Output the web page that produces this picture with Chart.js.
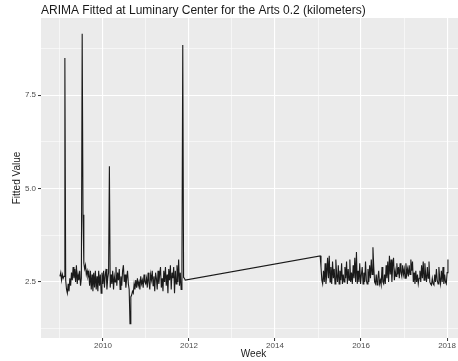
<!DOCTYPE html>
<html><head><meta charset="utf-8">
<script src="https://cdn.jsdelivr.net/npm/chart.js@4/dist/chart.umd.min.js"></script>
<style>
html,body{margin:0;padding:0;overflow:hidden;background:#fff;width:458px;height:361px}
#wrap{position:relative;width:466px;height:361px}
</style></head>
<body><div id="wrap"><canvas id="c" width="466" height="361"></canvas></div>
<script>
const titleText = "ARIMA Fitted at Luminary Center for the Arts 0.2 (kilometers)";
const xTitle = "Week";
const yTitle = "Fitted Value";
const seg1Start = 2009.0;
const seg2Start = 2015.05;
const seg1Values = [
  2.65, 2.75, 2.55, 2.7, 2.6, 2.65,
  8.5,
  2.55, 2.3, 2.2, 2.45, 2.25, 2.6, 2.4, 2.75, 2.55, 2.9, 2.6, 2.85, 2.5, 2.95, 2.45, 2.7, 2.55, 2.8, 2.4, 2.6,
  9.15, 4.3,
  3.0, 2.85, 2.95, 2.7, 2.8, 2.65, 2.75, 2.4, 2.8, 2.3, 2.7, 2.25, 2.75, 2.35, 2.8, 2.3, 2.65, 2.25, 2.8, 2.4, 2.7, 2.2, 2.75, 2.45, 2.8, 2.35, 2.7, 2.85, 2.3, 2.6, 2.75,
  5.6,
  2.35, 2.7, 2.45, 2.8, 2.3, 2.65, 2.5, 2.9, 2.4, 2.75, 2.55, 2.85, 2.3, 2.65, 2.4, 2.8, 2.95, 2.5, 2.7, 2.35, 2.6, 2.8, 2.45, 2.3,
  1.38,
  2.1, 2.15, 2.25, 2.2, 2.45, 2.3, 2.55, 2.35, 2.6, 2.4, 2.5, 2.3, 2.65, 2.45, 2.55, 2.35, 2.7, 2.5, 2.45, 2.6,
  2.35, 2.75, 2.5, 2.3, 2.7, 2.55, 2.8, 2.4, 2.65, 2.25, 2.75, 2.6, 2.3, 2.8, 2.45, 2.7, 2.9, 2.35, 2.6, 2.25,
  2.8, 2.5, 2.9, 2.4, 2.7, 2.2, 2.85, 2.55, 2.95, 2.3, 2.75, 2.6, 2.9, 2.2, 2.8, 2.45, 2.95, 2.5,
  3.1, 2.4, 2.75, 2.3, 2.95,
  8.85,
  2.62, 2.6, 2.55
];
const seg2Values = [
  3.2, 2.9, 2.55, 2.45, 2.8, 2.5, 3.0, 2.45, 2.7, 3.15, 2.6, 3.2, 2.5,
  2.9, 2.45, 3.05, 2.6, 2.85, 2.45, 3.1, 2.7, 2.5, 2.95, 2.45, 2.8, 2.55,
  3.0, 2.45, 2.7, 2.5, 2.9, 2.6, 3.05, 2.45, 2.85, 2.55, 3.1, 2.5, 2.75,
  2.45, 2.95, 2.6, 3.15, 2.5, 3.3, 2.45, 2.8, 2.5, 3.0, 2.45, 2.7, 2.9,
  2.45, 2.75, 2.5, 3.05, 2.55, 2.45, 2.85, 2.5, 2.95, 2.6, 3.1, 2.7, 3.43,
  2.9, 2.5, 2.45, 2.7, 2.42, 2.6, 2.8, 2.45, 2.55, 2.42, 2.9, 2.5, 2.45,
  2.7, 2.45, 2.95, 2.6, 3.05, 2.5, 3.2, 2.7, 3.1, 2.5, 2.95, 3.15, 2.55,
  2.8, 2.65, 3.0, 2.7, 2.9, 2.6, 3.0, 2.75, 2.65, 2.95, 2.7, 2.85, 2.6,
  3.0, 2.7, 2.85, 2.65, 2.95, 2.7, 3.1, 2.8, 3.05, 2.5, 2.75, 2.45, 2.8,
  2.5, 2.7, 2.45, 2.6, 2.8, 2.5, 2.95, 2.6, 3.05, 2.55, 3.0, 2.7, 2.5,
  2.9, 2.6, 3.05, 2.5, 2.45, 2.42, 2.6, 2.45, 2.42, 2.7, 2.5, 2.85, 2.55,
  2.45, 2.9, 2.6, 2.45, 2.8, 2.5, 2.9, 2.45, 2.7, 2.5, 2.45, 2.75, 3.1
];
const xMajorTicks = [2010, 2012, 2014, 2016, 2018];
const xMinorTicks = [2009, 2011, 2013, 2015, 2017];
const yMajorTicks = [2.5, 5.0, 7.5];
const yMinorTicks = [1.25, 3.75, 6.25, 8.75];

const weekYears = 7 / 365.25;
const points = [];
seg1Values.forEach((v, i) => points.push({x: seg1Start + i * weekYears, y: v}));
seg2Values.forEach((v, i) => points.push({x: seg2Start + i * weekYears, y: v}));

const FONT = "'Liberation Sans', Arial, Helvetica, sans-serif";
Chart.defaults.font.family = FONT;

const isMajorX = v => xMajorTicks.some(t => Math.abs(t - v) < 1e-6);
const isMajorY = v => yMajorTicks.some(t => Math.abs(t - v) < 1e-6);

const panelBg = {
  id: 'panelBg',
  beforeDraw(chart) {
    const {ctx, chartArea: a} = chart;
    ctx.save();
    ctx.fillStyle = '#EBEBEB';
    ctx.fillRect(a.left, a.top, a.right - a.left, a.bottom - a.top);
    ctx.restore();
  }
};
const ggTitle = {
  id: 'ggTitle',
  afterDraw(chart) {
    const {ctx, chartArea: a} = chart;
    ctx.save();
    ctx.font = '12px ' + FONT;
    ctx.fillStyle = '#1a1a1a';
    ctx.textBaseline = 'middle';
    ctx.textAlign = 'left';
    ctx.fillText(titleText, a.left, 11);
    ctx.restore();
  }
};

new Chart(document.getElementById('c'), {
  type: 'line',
  data: {
    datasets: [{
      data: points,
      borderColor: '#1a1a1a',
      borderWidth: 1.1,
      pointRadius: 0,
      tension: 0,
      fill: false
    }]
  },
  options: {
    responsive: false,
    animation: false,
    parsing: false,
    layout: {padding: {top: 18, left: 0, right: 0, bottom: 0}},
    plugins: {legend: {display: false}, title: {display: false}, tooltip: {enabled: false}},
    scales: {
      x: {
        type: 'linear',
        min: 2008.56,
        max: 2018.44,
        afterBuildTicks: s => { s.ticks = xMinorTicks.concat(xMajorTicks).sort((a, b) => a - b).map(v => ({value: v})); },
        afterFit: s => { s.height = 23; },
        ticks: {
          autoSkip: false, maxRotation: 0, padding: 0,
          color: '#4d4d4d', font: {size: 8},
          callback: v => isMajorX(v) ? String(v) : ''
        },
        grid: {
          color: '#ffffff',
          lineWidth: c => (c.tick && isMajorX(c.tick.value)) ? 1.1 : 0.55,
          tickLength: 3,
          tickWidth: 1,
          tickColor: c => (c.tick && isMajorX(c.tick.value)) ? '#333333' : 'rgba(0,0,0,0)'
        },
        border: {display: false},
        title: {display: true, text: xTitle, color: '#1a1a1a', font: {size: 10}, padding: {top: 0, bottom: 1}}
      },
      y: {
        type: 'linear',
        min: 1.0,
        max: 9.57,
        afterBuildTicks: s => { s.ticks = yMinorTicks.concat(yMajorTicks).sort((a, b) => a - b).map(v => ({value: v})); },
        afterFit: s => { s.width = 41; },
        ticks: {
          autoSkip: false, padding: 2,
          color: '#4d4d4d', font: {size: 8},
          callback: v => isMajorY(v) ? v.toFixed(1) : ''
        },
        grid: {
          color: '#ffffff',
          lineWidth: c => (c.tick && isMajorY(c.tick.value)) ? 1.1 : 0.55,
          tickLength: 3,
          tickWidth: 1,
          tickColor: c => (c.tick && isMajorY(c.tick.value)) ? '#333333' : 'rgba(0,0,0,0)'
        },
        border: {display: false},
        title: {display: true, text: yTitle, color: '#1a1a1a', font: {size: 10}, padding: {top: 11, bottom: 0}}
      }
    }
  },
  plugins: [panelBg, ggTitle]
});
</script>
</body></html>
